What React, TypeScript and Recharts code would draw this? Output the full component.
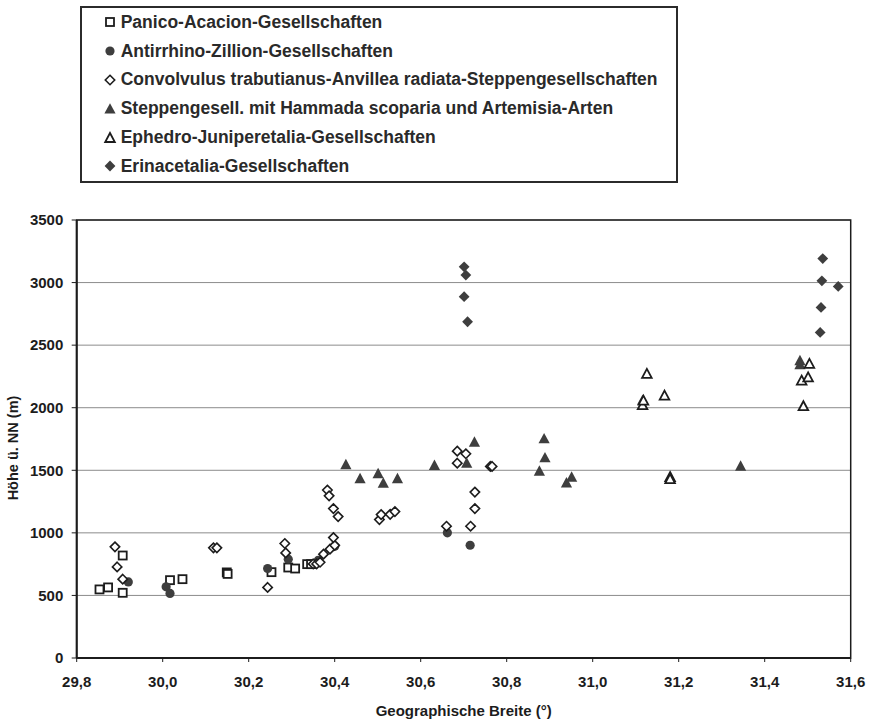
import React from 'react'
import {
  ScatterChart, Scatter, XAxis, YAxis, CartesianGrid, ReferenceArea, Legend,
} from 'recharts'

const latTicks = [29.8, 30.0, 30.2, 30.4, 30.6, 30.8, 31.0, 31.2, 31.4, 31.6]
const heightTicks = [0, 500, 1000, 1500, 2000, 2500, 3000, 3500]

const seriesNames = [
  'Panico-Acacion-Gesellschaften',
  'Antirrhino-Zillion-Gesellschaften',
  'Convolvulus trabutianus-Anvillea radiata-Steppengesellschaften',
  'Steppengesell. mit Hammada scoparia und Artemisia-Arten',
  'Ephedro-Juniperetalia-Gesellschaften',
  'Erinacetalia-Gesellschaften',
]

const panicoLat = [29.853, 29.873, 29.907, 29.907, 30.017, 30.046, 30.149, 30.151, 30.253, 30.292, 30.308, 30.336, 30.345]
const panicoHeight = [548, 564, 819, 521, 622, 630, 684, 672, 686, 723, 715, 750, 750]

const antirrhinoLat = [29.92, 30.008, 30.017, 30.244, 30.292, 30.362, 30.4, 30.662, 30.715]
const antirrhinoHeight = [608, 569, 516, 715, 790, 781, 893, 1000, 901]

const convolvulusLat = [
  29.889, 29.894, 29.907, 30.118, 30.126, 30.244, 30.284, 30.286, 30.35, 30.358,
  30.366, 30.374, 30.389, 30.4, 30.397, 30.383, 30.387, 30.397, 30.408, 30.504,
  30.508, 30.529, 30.54, 30.66, 30.685, 30.705, 30.685, 30.726, 30.726, 30.716,
  30.762, 30.766,
]
const convolvulusHeight = [
  888, 728, 630, 880, 880, 564, 915, 840, 752, 752,
  765, 830, 870, 900, 962, 1342, 1296, 1194, 1130, 1106,
  1146, 1148, 1170, 1053, 1653, 1632, 1557, 1326, 1194, 1053,
  1531, 1531,
]

const hammadaLat = [
  30.426, 30.459, 30.501, 30.513, 30.546, 30.632, 30.707, 30.725, 30.876, 30.887,
  30.889, 30.939, 30.951, 31.116, 31.344, 31.482, 31.482,
]
const hammadaHeight = [
  1545, 1433, 1473, 1398, 1433, 1540, 1557, 1725, 1494, 1752,
  1600, 1400, 1446, 2060, 1534, 2376, 2345,
]

const ephedroLat = [31.116, 31.126, 31.118, 31.167, 31.18, 31.18, 31.504, 31.486, 31.501, 31.49]
const ephedroHeight = [2020, 2270, 2057, 2097, 1446, 1430, 2350, 2217, 2243, 2012]

const erinaceaLat = [30.701, 30.705, 30.701, 30.709, 31.535, 31.533, 31.571, 31.531, 31.529]
const erinaceaHeight = [3126, 3060, 2887, 2687, 3192, 3014, 2969, 2801, 2602]

type Kind = 'square' | 'circle' | 'diamondOpen' | 'triangle' | 'triangleOpen' | 'diamond'

const toPoints = (lat: number[], h: number[]) => lat.map((x, i) => ({ x, y: h[i] }))

const series: { name: string; kind: Kind; points: { x: number; y: number }[] }[] = [
  { name: seriesNames[0], kind: 'square', points: toPoints(panicoLat, panicoHeight) },
  { name: seriesNames[1], kind: 'circle', points: toPoints(antirrhinoLat, antirrhinoHeight) },
  { name: seriesNames[2], kind: 'diamondOpen', points: toPoints(convolvulusLat, convolvulusHeight) },
  { name: seriesNames[3], kind: 'triangle', points: toPoints(hammadaLat, hammadaHeight) },
  { name: seriesNames[4], kind: 'triangleOpen', points: toPoints(ephedroLat, ephedroHeight) },
  { name: seriesNames[5], kind: 'diamond', points: toPoints(erinaceaLat, erinaceaHeight) },
]

const INK = '#1c1c1c'
const FILL = '#3e3e3e'
const FONT = '"Liberation Sans", Arial, sans-serif'

function Marker({ kind, cx, cy }: { kind: Kind; cx: number; cy: number }) {
  if (cx == null || cy == null) return null
  switch (kind) {
    case 'square':
      return <rect x={cx - 4} y={cy - 4} width={8} height={8} fill="#fff" stroke={INK} strokeWidth={1.8} />
    case 'circle':
      return <circle cx={cx} cy={cy} r={4.6} fill={FILL} />
    case 'diamondOpen':
      return (
        <polygon
          points={`${cx},${cy - 4.7} ${cx + 4.7},${cy} ${cx},${cy + 4.7} ${cx - 4.7},${cy}`}
          fill="#fff" stroke={INK} strokeWidth={1.6}
        />
      )
    case 'triangle':
      return (
        <polygon
          points={`${cx},${cy - 5.8} ${cx + 5.6},${cy + 4.6} ${cx - 5.6},${cy + 4.6}`}
          fill={FILL}
        />
      )
    case 'triangleOpen':
      return (
        <polygon
          points={`${cx},${cy - 5} ${cx + 4.8},${cy + 4} ${cx - 4.8},${cy + 4}`}
          fill="#fff" stroke={INK} strokeWidth={1.8}
        />
      )
    case 'diamond':
      return (
        <polygon
          points={`${cx},${cy - 5.4} ${cx + 5.4},${cy} ${cx},${cy + 5.4} ${cx - 5.4},${cy}`}
          fill={FILL}
        />
      )
  }
  return null
}

const renderLegend = () => (
  <div
    style={{
      border: '2px solid #2b2b2b', boxSizing: 'border-box', width: 598, height: 177,
      background: '#fff', paddingLeft: 22, fontFamily: FONT,
    }}
  >
    {series.map((s) => (
      <div key={s.name} style={{ height: 28.8, display: 'flex', alignItems: 'center' }}>
        <svg width={12} height={12} style={{ overflow: 'visible' }}>
          <Marker kind={s.kind} cx={6} cy={6} />
        </svg>
        <span style={{ marginLeft: 4.7, fontSize: 17.5, fontWeight: 700, color: '#2a2a2a', whiteSpace: 'nowrap' }}>
          {s.name}
        </span>
      </div>
    ))}
  </div>
)

const tickStyle = { fontSize: 15, fontWeight: 700, fill: INK, fontFamily: FONT }

export default function App() {
  return (
    <div style={{ position: 'absolute', left: 0, top: 0, width: 874, height: 719, background: '#fff', fontFamily: FONT }}>
      <ScatterChart width={874} height={719} margin={{ top: 220, right: 23.3, bottom: 0, left: 0 }}>
        <CartesianGrid vertical={false} stroke="#8c8c8c" strokeWidth={1} />
        <XAxis
          type="number"
          dataKey="x"
          domain={[29.8, 31.6]}
          ticks={latTicks}
          interval={0}
          height={61}
          tickFormatter={(v: number) => v.toFixed(1).replace('.', ',')}
          tick={tickStyle}
          tickSize={4}
          tickMargin={14}
          axisLine={{ stroke: INK, strokeWidth: 2 }}
          tickLine={{ stroke: INK }}
          label={{
            content: (p: any) => {
              const vb = p.viewBox ?? { x: 76.7, y: 658, width: 774, height: 61 }
              return (
                <text
                  x={vb.x + vb.width / 2} y={vb.y + 52} textAnchor="middle" dominantBaseline="central"
                  style={{ fontSize: 15, fontWeight: 700, fill: INK, fontFamily: FONT }}
                >
                  Geographische Breite (°)
                </text>
              )
            },
          }}
        />
        <YAxis
          type="number"
          dataKey="y"
          domain={[0, 3500]}
          ticks={heightTicks}
          interval={0}
          width={76.7}
          tick={tickStyle}
          tickSize={5}
          tickMargin={8.4}
          axisLine={{ stroke: INK, strokeWidth: 2 }}
          tickLine={{ stroke: INK }}
          label={{
            content: (p: any) => {
              const vb = p.viewBox ?? { x: 0, y: 220, width: 76.7, height: 438 }
              const cx = 13.3
              const cy = vb.y + vb.height / 2 + 9
              return (
                <text
                  x={cx} y={cy} textAnchor="middle" dominantBaseline="central"
                  transform={`rotate(-90, ${cx}, ${cy})`}
                  style={{ fontSize: 14.5, fontWeight: 700, fill: INK, fontFamily: FONT }}
                >
                  Höhe ü. NN (m)
                </text>
              )
            },
          }}
        />
        <ReferenceArea x1={29.8} x2={31.6} y1={0} y2={3500} fill="none" fillOpacity={0} stroke={INK} strokeWidth={1.5} />
        <Legend
          layout="vertical"
          align="center"
          verticalAlign="middle"
          content={renderLegend}
          wrapperStyle={{ left: 80, top: 6, width: 598, height: 177 }}
        />
        {series.map((s) => (
          <Scatter
            key={s.name}
            name={s.name}
            data={s.points}
            isAnimationActive={false}
            shape={(p: any) => <Marker kind={s.kind} cx={p.cx} cy={p.cy} />}
          />
        ))}
      </ScatterChart>
    </div>
  )
}
